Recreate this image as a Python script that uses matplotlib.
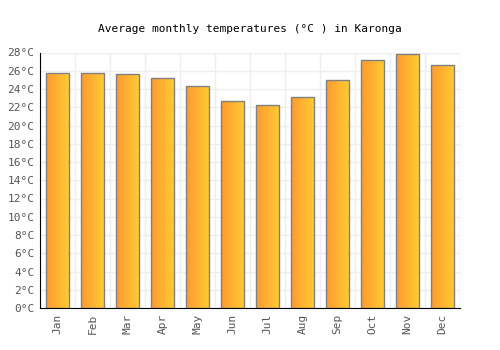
import numpy as np
import matplotlib.pyplot as plt
from matplotlib.colors import LinearSegmentedColormap

months = ['Jan', 'Feb', 'Mar', 'Apr', 'May', 'Jun', 'Jul', 'Aug', 'Sep', 'Oct', 'Nov', 'Dec']
temps = [25.8, 25.8, 25.6, 25.2, 24.3, 22.7, 22.2, 23.1, 25.0, 27.2, 27.8, 26.6]
yticks = list(range(0, 29, 2))

plt.rcParams['font.family'] = 'DejaVu Sans Mono'

fig = plt.figure(figsize=(5, 3.5), dpi=100)
ax = fig.add_axes([0.08, 0.12, 0.84, 0.73])

x = np.arange(len(months))
bars = ax.bar(x, temps, width=0.66, color='none', edgecolor='#808080', linewidth=1, zorder=3)

cmap = LinearSegmentedColormap.from_list('og', ['#FF9A30', '#FFCC33'])
grad = np.linspace(0, 1, 64).reshape(1, -1)
for b in bars:
    bx, by = b.get_x(), b.get_y()
    im = ax.imshow(grad, cmap=cmap, aspect='auto', zorder=2,
                   extent=[bx, bx + b.get_width(), by, by + b.get_height()])
    im.set_clip_path(b)

ax.set_xlim(-0.5, 11.5)
ax.set_ylim(0, 28)
ax.set_xticks(x)
ax.set_xticklabels(months, rotation=90, fontsize=8, color='#555555')
ax.set_yticks(yticks)
ax.set_yticklabels([f'{t}°C' for t in yticks], fontsize=8, color='#555555')
ax.set_xticks(np.arange(-0.5, 12, 1), minor=True)
ax.grid(True, axis='y', color='#eeeeee', linewidth=1, zorder=0)
ax.grid(True, axis='x', which='minor', color='#eeeeee', linewidth=1, zorder=0)
ax.tick_params(axis='both', which='both', length=0, pad=4)
for s in ['top', 'right']:
    ax.spines[s].set_visible(False)
ax.spines['left'].set_color('black')
ax.spines['bottom'].set_color('black')

fig.suptitle('Average monthly temperatures (°C ) in Karonga', fontsize=8, y=0.93)

fig.savefig('out.png', dpi=100)
